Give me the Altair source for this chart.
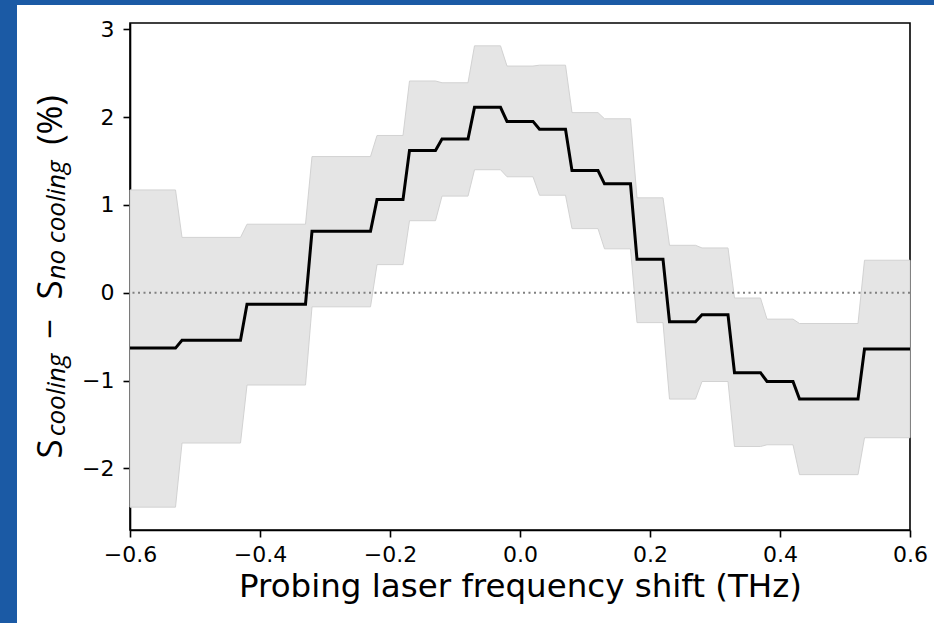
import altair as alt
import pandas as pd

# Step segments (THz) and values (%)
seg_start = [-0.60, -0.52, -0.42, -0.32, -0.22, -0.17, -0.12, -0.07, -0.02, 0.03,
             0.08, 0.13, 0.18, 0.23, 0.28, 0.33, 0.38, 0.43, 0.53]
seg_end = [-0.53, -0.43, -0.33, -0.23, -0.18, -0.13, -0.08, -0.03, 0.02, 0.07,
           0.12, 0.17, 0.22, 0.27, 0.32, 0.37, 0.42, 0.52, 0.60]
mean_vals = [-0.63, -0.54, -0.13, 0.70, 1.06, 1.62, 1.75, 2.11, 1.95, 1.86,
             1.39, 1.24, 0.38, -0.33, -0.25, -0.91, -1.01, -1.21, -0.64]
upper_vals = [1.17, 0.63, 0.78, 1.55, 1.79, 2.41, 2.39, 2.81, 2.58, 2.59,
              2.05, 1.98, 1.08, 0.54, 0.51, -0.06, -0.30, -0.35, 0.37]
lower_vals = [-2.44, -1.71, -1.05, -0.16, 0.32, 0.82, 1.10, 1.40, 1.32, 1.11,
              0.73, 0.50, -0.34, -1.21, -1.01, -1.75, -1.73, -2.07, -1.65]

x_ticks = [-0.6, -0.4, -0.2, 0.0, 0.2, 0.4, 0.6]
y_ticks = [-2, -1, 0, 1, 2, 3]

rows = []
for s, e, m, u, l in zip(seg_start, seg_end, mean_vals, upper_vals, lower_vals):
    rows.append({"x": s, "mean": m, "hi": u, "lo": l})
    rows.append({"x": e, "mean": m, "hi": u, "lo": l})
df = pd.DataFrame(rows)

W, H = 780, 507
xscale = alt.Scale(domain=[-0.6, 0.6], nice=False, zero=False)
yscale = alt.Scale(domain=[-2.70, 3.07], nice=False, zero=False)

xaxis = alt.Axis(values=x_ticks, format=".1f", title="Probing laser frequency shift (THz)",
                 labelFlush=False, labelOverlap=False, labelPadding=7, titlePadding=5)
yaxis = alt.Axis(values=y_ticks, format="d", title=None, labelPadding=9,
                 labelFlush=False, labelOverlap=False)

X = alt.X("x:Q", scale=xscale, axis=xaxis)

band = alt.Chart(df).mark_area(color="#e5e5e5", stroke="#d2d2d2", strokeWidth=1).encode(
    x=X,
    y=alt.Y("lo:Q", scale=yscale, axis=yaxis),
    y2="hi:Q",
)

zero = alt.Chart(pd.DataFrame({"y": [0]})).mark_rule(
    color="#808080", strokeDash=[2, 3.5], strokeWidth=2
).encode(y=alt.Y("y:Q", scale=yscale, axis=yaxis))

line = alt.Chart(df).mark_line(color="black", strokeWidth=3).encode(
    x=X,
    y=alt.Y("mean:Q", scale=yscale, axis=yaxis),
)

one = pd.DataFrame({"a": [0]})

# decorative slide border
blue_left = alt.Chart(one).mark_rect(color="#1b5aa5").encode(
    x=alt.value(-130), x2=alt.value(-113), y=alt.value(-23), y2=alt.value(600))
blue_top = alt.Chart(one).mark_rect(color="#1b5aa5").encode(
    x=alt.value(-130), x2=alt.value(804), y=alt.value(-23), y2=alt.value(-18))

# y-axis title composed of pieces (with subscripts)
title_pieces = [
    # text, center y (px in plot), baseline x (px), size, style
    ("S", 426, -68, 35, "normal"),
    ("cooling", 372, -65, 26, "italic"),
    ("\u2212", 306, -68, 35, "normal"),
    ("S", 267, -68, 35, "normal"),
    ("no cooling", 197, -65, 26, "italic"),
    ("(%)", 97, -68, 35, "normal"),
]
texts = []
for t, cy, bx, fs, st in title_pieces:
    texts.append(
        alt.Chart(one).mark_text(
            text=t, angle=270, align="center", baseline="alphabetic",
            font="Open Sans", fontSize=fs, fontStyle=st, color="black"
        ).encode(x=alt.value(bx), y=alt.value(cy))
    )

chart = alt.layer(band, zero, line, blue_left, blue_top, *texts).properties(
    width=W, height=H,
    autosize=alt.AutoSizeParams(type="none"),
    padding={"left": 130, "top": 23, "right": 24, "bottom": 93},
    background="white",
).configure_view(
    stroke="black", strokeWidth=1.6
).configure_axis(
    grid=False, domainColor="black", domainWidth=1.6, tickColor="black",
    tickWidth=1.6, tickSize=7, labelFont="DejaVu Sans", labelFontSize=22,
    labelColor="black", titleFont="DejaVu Sans", titleFontSize=32.5,
    titleColor="black", titleFontWeight="normal"
)

chart.save("out.html", embed_options={"renderer": "svg", "actions": False})
